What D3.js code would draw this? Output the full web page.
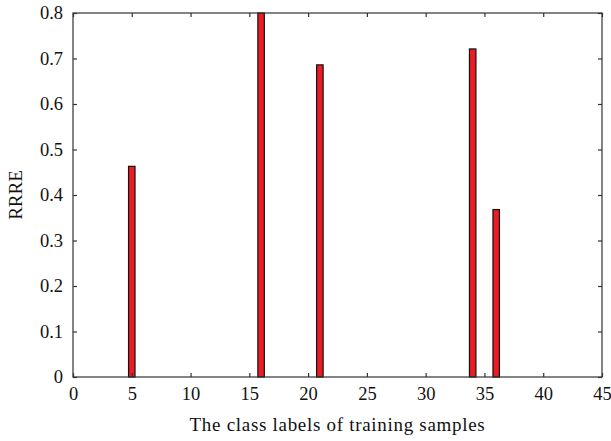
<!DOCTYPE html>
<html>
<head>
<meta charset="utf-8">
<script src="https://cdn.jsdelivr.net/npm/d3@7"></script>
<style>
  body { margin: 0; background: #fff; }
  svg text { font-family: "Liberation Serif", "DejaVu Serif", serif; fill: #111; }
</style>
</head>
<body>
<div id="chart"></div>
<script>
// class labels and their RRRE values
var classLabels = [5, 16, 21, 34, 36];
var rrreValues = [0.463, 0.8, 0.686, 0.721, 0.368];
var xTicks = [0, 5, 10, 15, 20, 25, 30, 35, 40, 45];
var yTicks = [0, 0.1, 0.2, 0.3, 0.4, 0.5, 0.6, 0.7, 0.8];

var width = 611, height = 441;
var margin = {top: 13, right: 9, bottom: 64, left: 73};
var w = width - margin.left - margin.right,
    h = height - margin.top - margin.bottom;

var svg = d3.select("#chart").append("svg")
    .attr("width", width)
    .attr("height", height);

var g = svg.append("g")
    .attr("transform", "translate(" + margin.left + "," + margin.top + ")");

var x = d3.scaleLinear().domain([0, 45]).range([0, w]);
var y = d3.scaleLinear().domain([0, 0.8]).range([h, 0]);

var barW = x(0.55) - x(0);

// bars
g.selectAll("rect.bar")
    .data(classLabels)
    .enter()
    .append("rect")
    .attr("class", "bar")
    .attr("x", function(d) { return x(d) - barW / 2; })
    .attr("y", function(d, i) { return y(rrreValues[i]); })
    .attr("width", barW)
    .attr("height", function(d, i) { return h - y(rrreValues[i]); })
    .attr("fill", "#ec1c24")
    .attr("stroke", "#111")
    .attr("stroke-width", 1.2);

// frame
var axisColor = "#333";
g.append("rect")
    .attr("x", 0).attr("y", 0)
    .attr("width", w).attr("height", h)
    .attr("fill", "none")
    .attr("stroke", axisColor)
    .attr("stroke-width", 1.2);

// axes with inward ticks
var xAxis = d3.axisBottom(x).tickValues(xTicks).tickSizeInner(-4).tickSizeOuter(0).tickPadding(10);
var xTop = d3.axisTop(x).tickValues(xTicks).tickSizeInner(-4).tickSizeOuter(0).tickFormat("");
var yAxis = d3.axisLeft(y).tickValues(yTicks).tickSizeInner(-4).tickSizeOuter(0).tickPadding(10)
    .tickFormat(function(d) { return d === 0 ? "0" : d3.format(".1f")(d); });
var yRight = d3.axisRight(y).tickValues(yTicks).tickSizeInner(-4).tickSizeOuter(0).tickFormat("");

function styleAxis(sel) {
  sel.select(".domain").remove();
  sel.selectAll("line").attr("stroke", axisColor).attr("stroke-width", 1.2);
  sel.selectAll("text").style("font-size", "18.5px").attr("fill", "#111");
}

g.append("g").attr("transform", "translate(0," + h + ")").call(xAxis).call(styleAxis);
g.append("g").call(xTop).call(styleAxis);
g.append("g").call(yAxis).call(styleAxis);
g.append("g").attr("transform", "translate(" + w + ",0)").call(yRight).call(styleAxis);

// axis titles
svg.append("text")
    .attr("x", margin.left + w / 2)
    .attr("y", 431)
    .attr("text-anchor", "middle")
    .style("font-size", "19px")
    .style("letter-spacing", "0.7px")
    .text("The class labels of training samples");

svg.append("text")
    .attr("transform", "translate(22," + (margin.top + h / 2) + ") rotate(-90)")
    .attr("text-anchor", "middle")
    .style("font-size", "19px")
    .text("RRRE");
</script>
</body>
</html>
